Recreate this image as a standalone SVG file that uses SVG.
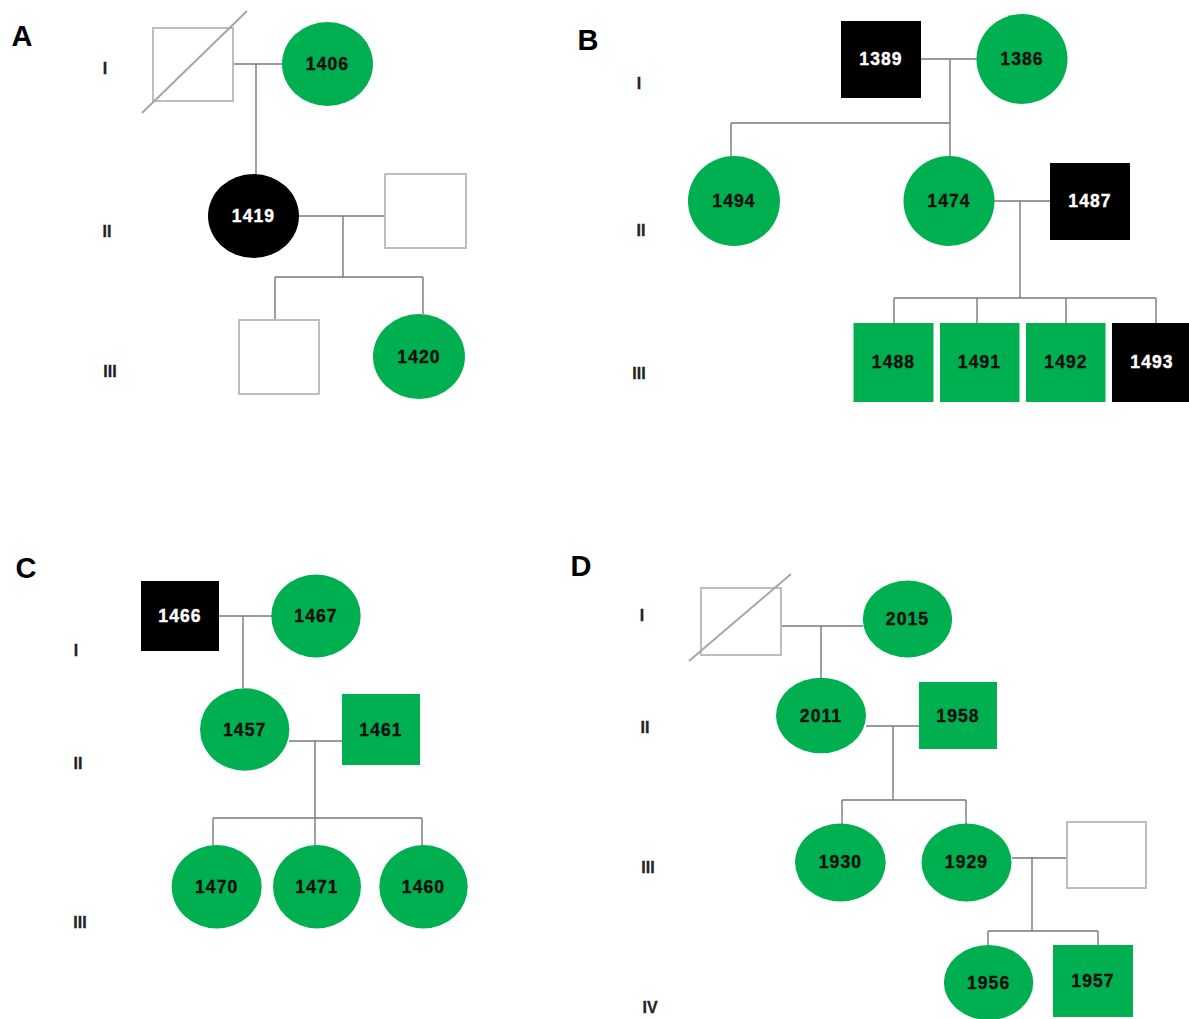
<svg xmlns="http://www.w3.org/2000/svg" width="1189" height="1019" viewBox="0 0 1189 1019">
<style>
.bg{fill:#fff}
.g{fill:#00b050}
.k{fill:#000}
.u{fill:#fff;stroke:#bdbdbd;stroke-width:2}
.d{stroke:#a6a6a6;stroke-width:2}
.c{fill:none;stroke:#7a7a7a;stroke-width:1.4}
.t{font-family:"Liberation Sans",Arial,sans-serif;font-weight:bold;font-size:17.5px;letter-spacing:1.1px;text-anchor:middle;dominant-baseline:central;fill:#111;stroke:#111;stroke-width:0.4}
.w{fill:#fff;stroke:#fff}
.r{font-family:"Liberation Sans",Arial,sans-serif;font-weight:bold;font-size:16px;text-anchor:middle;dominant-baseline:central;fill:#222;stroke:#222;stroke-width:0.3}
.p{font-family:"Liberation Sans",Arial,sans-serif;font-weight:bold;font-size:29px;text-anchor:middle;dominant-baseline:central;fill:#000}
</style>
<rect class="bg" x="0" y="0" width="1189" height="1019"/>

<g id="connectors">
<!-- A -->
<path class="c" d="M233,64H282 M256,64V174 M299,216H385 M343,216V277 M275,277H423 M275,277V320 M423,277V314"/>
<!-- B -->
<path class="c" d="M921,59H977 M950,59V157 M731,123H950 M731,123V157 M994,201H1050 M1020,201V298 M894,298H1156 M894,298V323 M977,298V323 M1066,298V323 M1156,298V323"/>
<!-- C -->
<path class="c" d="M219,616H272 M243,616V688 M289,741H342 M315,741V818 M213,818H422 M213,818V846 M315,818V846 M422,818V846"/>
<!-- D -->
<path class="c" d="M781,626H863 M821,626V678 M866,726H919 M893,726V800 M842,800H966 M842,800V824 M966,800V824 M1012,858H1067 M1032,858V931 M988,931H1098 M988,931V945 M1098,931V945"/>
</g>

<g id="panel-labels">
<text class="p" x="22" y="36">A</text>
<text class="p" x="588" y="40">B</text>
<text class="p" x="26" y="568">C</text>
<text class="p" x="581" y="566">D</text>
</g>

<g id="generations">
<text class="r" x="105" y="68">I</text>
<text class="r" x="107" y="231">II</text>
<text class="r" x="110" y="371">III</text>
<text class="r" x="639" y="83">I</text>
<text class="r" x="641" y="230">II</text>
<text class="r" x="639" y="373">III</text>
<text class="r" x="76" y="650">I</text>
<text class="r" x="78" y="763">II</text>
<text class="r" x="80" y="922">III</text>
<text class="r" x="642" y="615">I</text>
<text class="r" x="645" y="727">II</text>
<text class="r" x="648" y="867">III</text>
<text class="r" x="650" y="1007">IV</text>
</g>

<!-- Panel A -->
<g id="A-I-1"><rect class="u" x="153" y="28" width="80" height="73"/><line class="d" x1="142" y1="113" x2="247" y2="11"/></g>
<g id="A-1406"><ellipse class="g" cx="327.5" cy="64" rx="45.5" ry="42"/><text class="t" x="327.5" y="64">1406</text></g>
<g id="A-1419"><ellipse class="k" cx="253.5" cy="216" rx="45.5" ry="42"/><text class="t w" x="253.5" y="216">1419</text></g>
<g id="A-II-2"><rect class="u" x="385" y="174" width="81" height="74"/></g>
<g id="A-III-1"><rect class="u" x="239" y="320" width="80" height="74"/></g>
<g id="A-1420"><ellipse class="g" cx="419" cy="356.5" rx="46" ry="42.5"/><text class="t" x="419" y="356.5">1420</text></g>

<!-- Panel B -->
<g id="B-1389"><rect class="k" x="841" y="21" width="80" height="77"/><text class="t w" x="881" y="59">1389</text></g>
<g id="B-1386"><ellipse class="g" cx="1022" cy="59" rx="45.5" ry="45"/><text class="t" x="1022" y="59">1386</text></g>
<g id="B-1494"><ellipse class="g" cx="734" cy="201" rx="46" ry="45"/><text class="t" x="734" y="201">1494</text></g>
<g id="B-1474"><ellipse class="g" cx="949" cy="201" rx="45.5" ry="45"/><text class="t" x="949" y="201">1474</text></g>
<g id="B-1487"><rect class="k" x="1050" y="163" width="80" height="77"/><text class="t w" x="1090" y="201">1487</text></g>
<g id="B-1488"><rect class="g" x="853.5" y="323" width="80" height="79"/><text class="t" x="893.5" y="362">1488</text></g>
<g id="B-1491"><rect class="g" x="940" y="323" width="79.5" height="79"/><text class="t" x="979.5" y="362">1491</text></g>
<g id="B-1492"><rect class="g" x="1026" y="323" width="79.5" height="79"/><text class="t" x="1066" y="362">1492</text></g>
<g id="B-1493"><rect class="k" x="1112" y="323" width="80" height="79"/><text class="t w" x="1152" y="362">1493</text></g>

<!-- Panel C -->
<g id="C-1466"><rect class="k" x="141" y="581" width="78" height="70"/><text class="t w" x="180" y="616">1466</text></g>
<g id="C-1467"><ellipse class="g" cx="316" cy="616" rx="44.7" ry="41.5"/><text class="t" x="316" y="616">1467</text></g>
<g id="C-1457"><ellipse class="g" cx="244.7" cy="729.5" rx="44.7" ry="41.2"/><text class="t" x="244.7" y="729.5">1457</text></g>
<g id="C-1461"><rect class="g" x="342" y="694" width="78" height="71"/><text class="t" x="381" y="729.5">1461</text></g>
<g id="C-1470"><ellipse class="g" cx="216.7" cy="886.7" rx="45" ry="41.7"/><text class="t" x="216.7" y="886.7">1470</text></g>
<g id="C-1471"><ellipse class="g" cx="317" cy="886.7" rx="44" ry="41.7"/><text class="t" x="317" y="886.7">1471</text></g>
<g id="C-1460"><ellipse class="g" cx="423.5" cy="886.7" rx="44.2" ry="41.7"/><text class="t" x="423.5" y="886.7">1460</text></g>

<!-- Panel D -->
<g id="D-I-1"><rect class="u" x="701" y="588" width="80" height="67"/><line class="d" x1="689" y1="661" x2="791" y2="574"/></g>
<g id="D-2015"><ellipse class="g" cx="907.5" cy="619" rx="44.7" ry="38.5"/><text class="t" x="907.5" y="619">2015</text></g>
<g id="D-2011"><ellipse class="g" cx="821" cy="715.5" rx="45" ry="37.8"/><text class="t" x="821" y="715.5">2011</text></g>
<g id="D-1958"><rect class="g" x="919" y="682" width="78" height="67"/><text class="t" x="958" y="715.5">1958</text></g>
<g id="D-1930"><ellipse class="g" cx="840.4" cy="862.5" rx="45.3" ry="39"/><text class="t" x="840.4" y="862">1930</text></g>
<g id="D-1929"><ellipse class="g" cx="966.5" cy="862.5" rx="45" ry="39"/><text class="t" x="966.5" y="862">1929</text></g>
<g id="D-III-3"><rect class="u" x="1067" y="822" width="79" height="66"/></g>
<g id="D-1956"><ellipse class="g" cx="988.6" cy="982.5" rx="44.7" ry="37.5"/><text class="t" x="988.6" y="983">1956</text></g>
<g id="D-1957"><rect class="g" x="1053" y="945" width="80" height="72"/><text class="t" x="1093" y="981">1957</text></g>
</svg>
